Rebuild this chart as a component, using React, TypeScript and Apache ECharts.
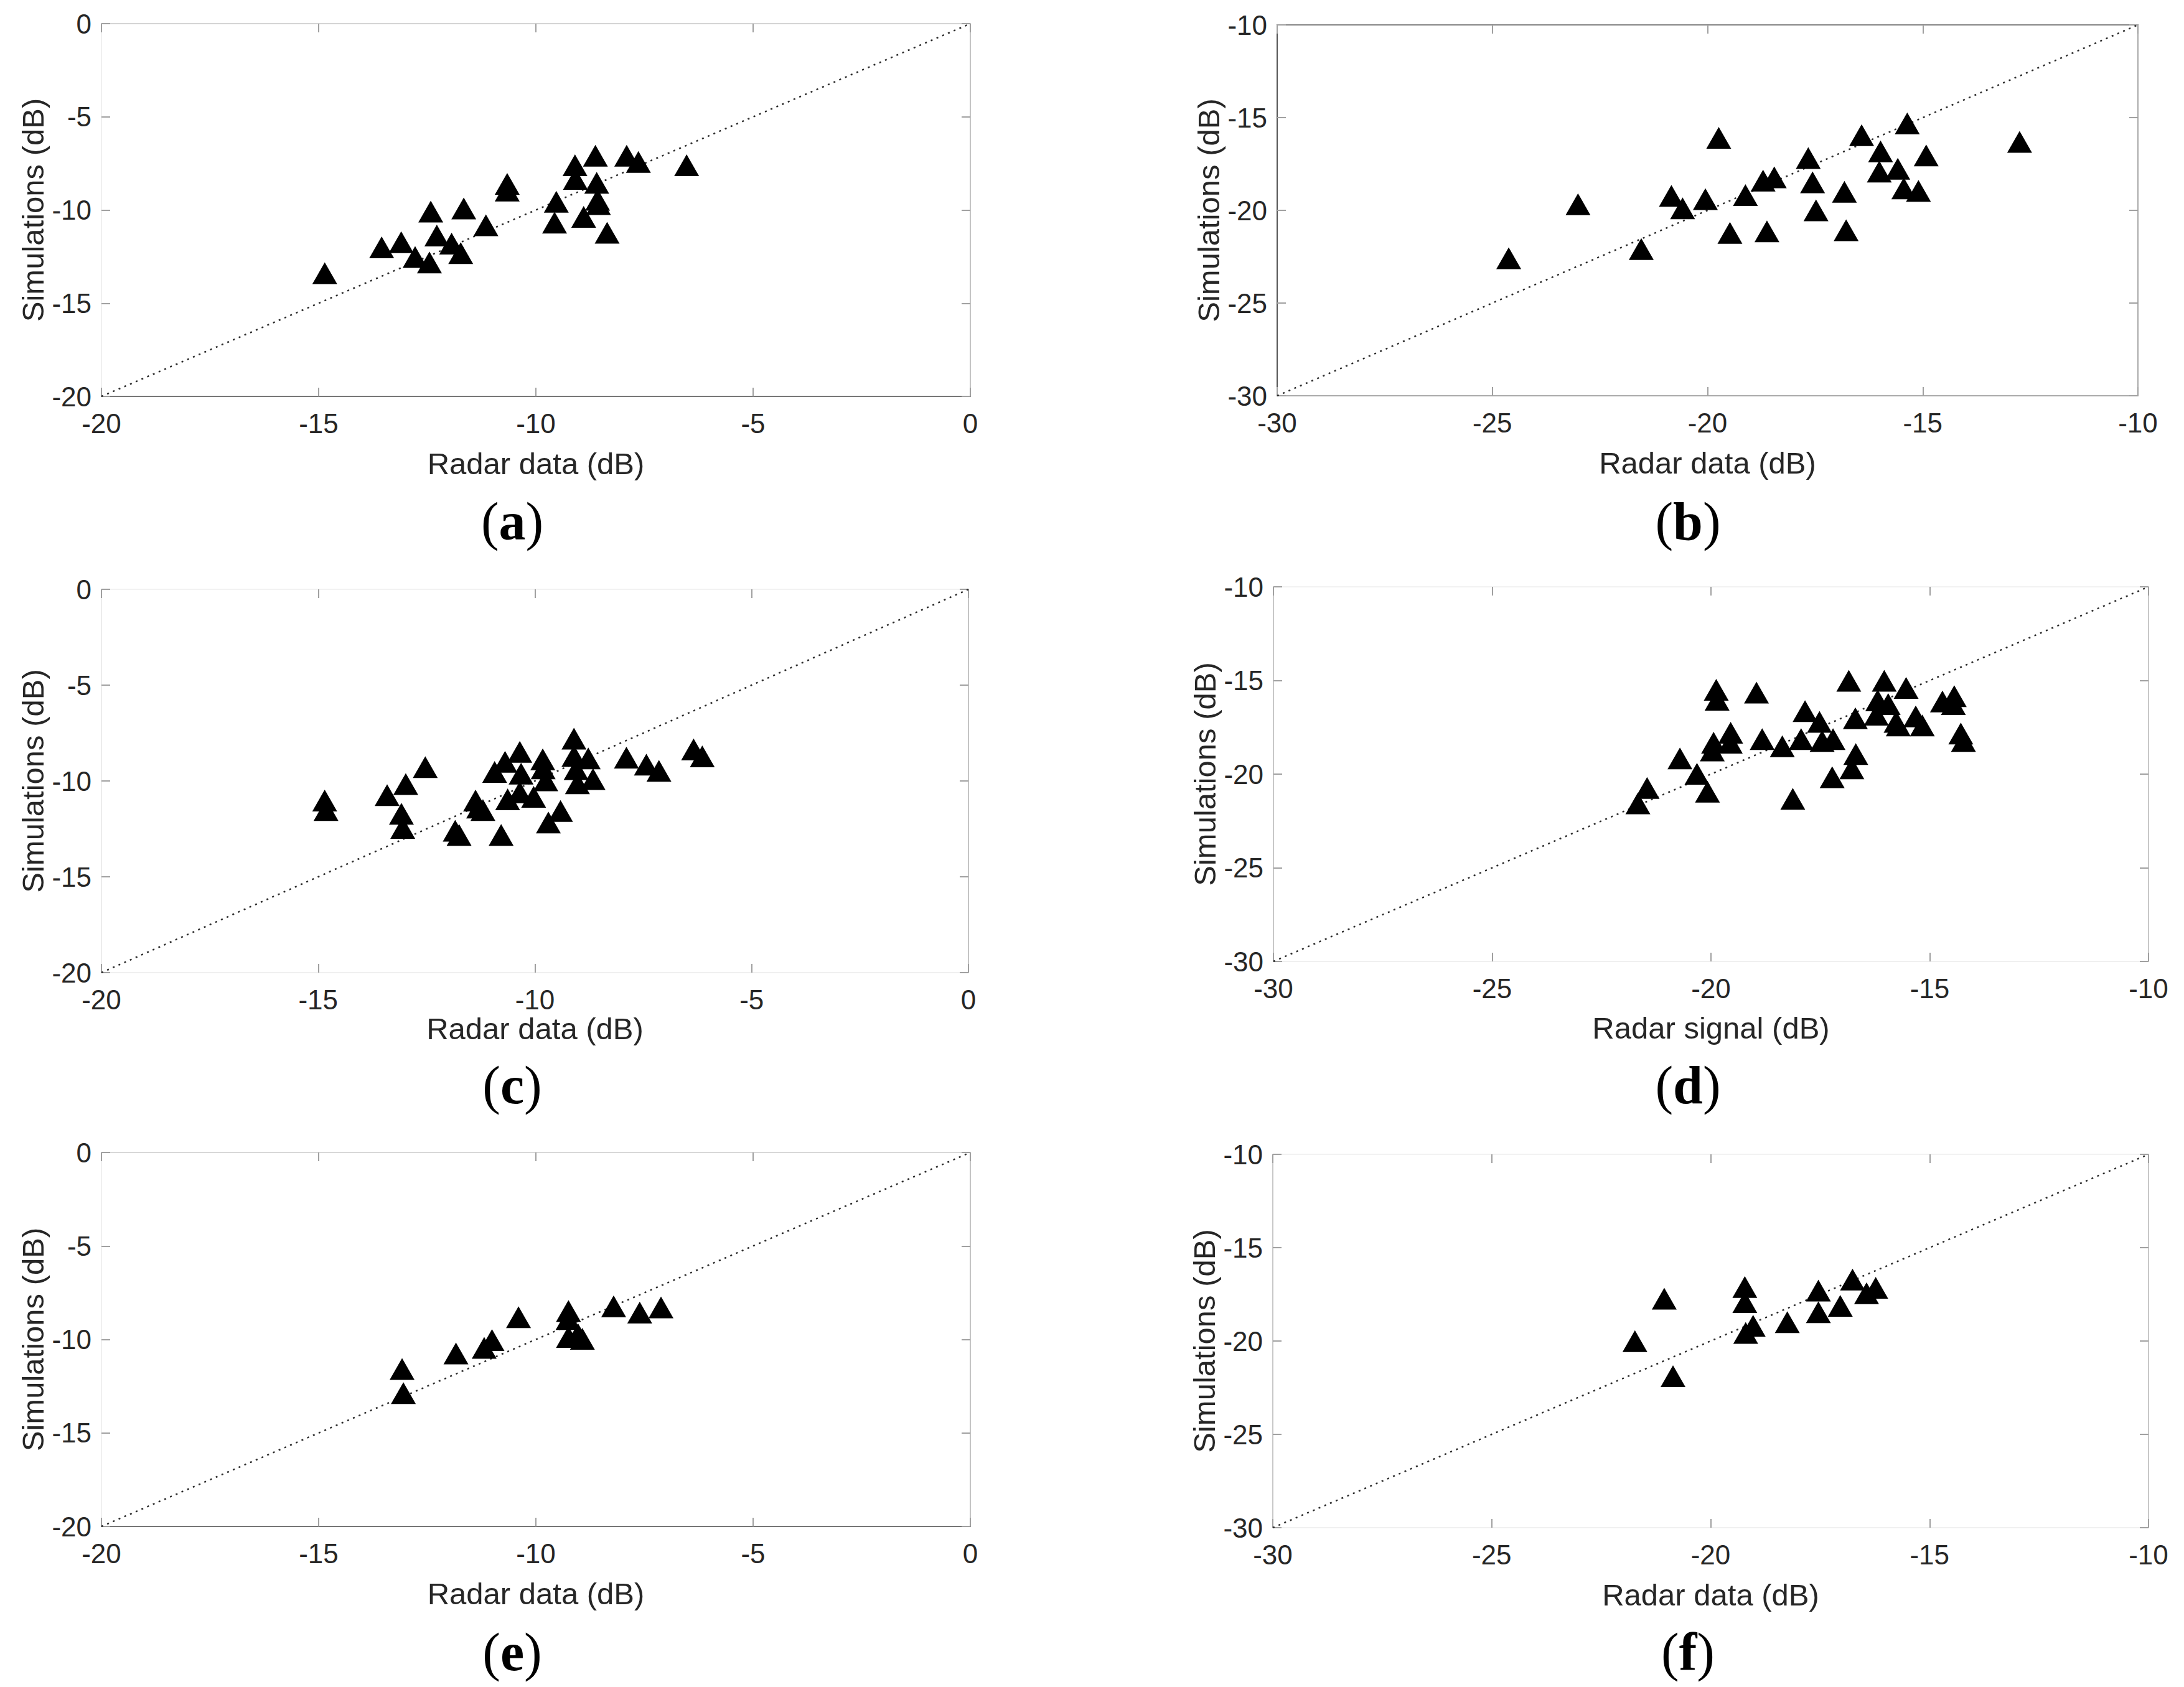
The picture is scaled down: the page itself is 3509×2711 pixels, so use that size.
import React, { useEffect, useRef } from "react";
import * as echarts from "echarts";

// ---------- data (radar dB on x, simulations dB on y) ----------
const radarA = [-14.86, -13.55, -13.1, -12.78, -12.45, -12.42, -12.28, -11.94, -11.73, -11.66, -11.15, -10.66, -10.66, -9.53, -9.57, -9.1, -9.09, -8.9, -8.63, -8.6, -8.58, -8.56, -8.36, -7.91, -7.64, -6.53];
const simA = [-13.39, -12.0, -11.73, -12.52, -12.81, -10.08, -11.37, -11.8, -12.31, -9.92, -10.82, -8.6, -8.96, -9.56, -10.68, -7.6, -8.33, -10.37, -7.09, -8.54, -9.45, -9.68, -11.22, -7.09, -7.42, -7.6];

const radarB = [-24.62, -23.01, -21.54, -20.84, -20.58, -20.05, -19.74, -19.48, -19.12, -18.71, -18.45, -18.62, -17.66, -17.56, -17.48, -16.82, -16.78, -16.42, -15.98, -16.01, -15.58, -15.44, -15.36, -15.1, -14.92, -12.75];
const simB = [-22.58, -19.67, -22.09, -19.22, -19.89, -19.4, -16.09, -21.22, -19.18, -18.4, -18.22, -21.13, -17.18, -18.49, -20.0, -19.0, -21.07, -15.95, -16.82, -17.91, -17.76, -18.82, -15.31, -18.95, -17.04, -16.31];

const radarC = [-14.85, -14.82, -13.41, -12.98, -13.08, -13.05, -12.53, -11.84, -11.75, -11.37, -11.3, -11.2, -10.93, -10.78, -10.69, -10.63, -10.35, -10.32, -10.35, -10.03, -9.82, -9.81, -9.75, -9.69, -9.41, -9.1, -9.1, -9.05, -9.02, -8.77, -8.66, -7.89, -7.43, -7.14, -6.34, -6.14];
const simC = [-11.02, -11.52, -10.74, -10.16, -11.71, -12.45, -9.28, -12.6, -12.82, -11.02, -11.39, -11.52, -9.53, -12.82, -9.0, -10.96, -8.48, -9.62, -10.59, -10.83, -8.87, -9.34, -9.97, -12.17, -11.57, -7.79, -8.69, -9.38, -10.12, -8.82, -9.9, -8.78, -9.15, -9.47, -8.35, -8.72];

const radarD = [-21.67, -21.46, -20.71, -20.32, -20.08, -19.97, -19.94, -19.88, -19.86, -19.56, -19.55, -18.96, -18.83, -18.37, -18.13, -17.94, -17.85, -17.52, -17.46, -17.21, -17.23, -16.85, -16.78, -16.7, -16.69, -16.22, -16.19, -16.04, -15.95, -15.77, -15.72, -15.54, -15.32, -15.17, -14.71, -14.46, -14.44, -14.29, -14.23];
const simD = [-21.56, -20.74, -19.16, -19.98, -20.94, -18.74, -18.32, -15.5, -16.03, -18.32, -17.79, -15.65, -18.13, -18.51, -21.32, -18.13, -16.64, -17.21, -18.23, -18.13, -20.17, -15.02, -19.69, -17.02, -18.93, -16.83, -16.06, -15.02, -16.26, -17.21, -17.4, -15.4, -16.92, -17.4, -16.12, -16.26, -15.84, -17.83, -18.23];

const radarE = [-13.08, -13.05, -11.84, -11.19, -11.01, -10.4, -9.25, -9.26, -9.25, -9.03, -8.93, -8.21, -7.61, -7.12];
const simE = [-11.58, -12.87, -10.75, -10.45, -10.03, -8.81, -8.48, -8.91, -9.87, -9.72, -9.97, -8.23, -8.56, -8.29];

const radarF = [-21.73, -21.06, -20.86, -19.22, -19.22, -19.2, -19.03, -18.25, -17.54, -17.54, -17.04, -16.76, -16.44, -16.23];
const simF = [-20.01, -17.73, -21.88, -17.11, -17.92, -19.57, -19.18, -18.99, -17.3, -18.46, -18.12, -16.71, -17.44, -17.15];

// axis ranges (also the 1:1 line ends)
const rangeNear = [-20, 0];
const rangeFar = [-30, -10];
const tickStep = 5;

const panelLetters = ["a", "b", "c", "d", "e", "f"];
const xTitles = ["Radar data (dB)", "Radar data (dB)", "Radar data (dB)", "Radar signal (dB)", "Radar data (dB)", "Radar data (dB)"];
const yTitle = "Simulations (dB)";

// ---------- layout / style ----------
const SANS = "'Liberation Sans', Arial, Helvetica, sans-serif";
const SERIF = "'Liberation Serif', 'Times New Roman', serif";
const TXT = "#262626";

type Panel = {
  xs: number[];
  ys: number[];
  range: number[];
  box: { l: number; t: number; r: number; b: number };
  xGap: number;
  edges: { top: string; right: string; bottom: string; left: string };
  label: { x: number; y: number };
};

const panels: Panel[] = [
  { xs: radarA, ys: simA, range: rangeNear, box: { l: 163, t: 38, r: 1559, b: 637 }, xGap: 83,
    edges: { top: "#d4d4d4", right: "#c4c4c4", bottom: "#777777", left: "#f0f0f0" }, label: { x: 823, y: 838 } },
  { xs: radarB, ys: simB, range: rangeFar, box: { l: 2052, t: 40, r: 3435, b: 636 }, xGap: 83,
    edges: { top: "#858585", right: "#aaaaaa", bottom: "#aaaaaa", left: "#555555" }, label: { x: 2712, y: 838 } },
  { xs: radarC, ys: simC, range: rangeNear, box: { l: 163, t: 947, r: 1556, b: 1563 }, xGap: 65,
    edges: { top: "#f2f2f2", right: "#c4c4c4", bottom: "#f0f0f0", left: "#ececec" }, label: { x: 823, y: 1744 } },
  { xs: radarD, ys: simD, range: rangeFar, box: { l: 2046, t: 943, r: 3452, b: 1545 }, xGap: 82,
    edges: { top: "#f2f2f2", right: "#c8c8c8", bottom: "#f0f0f0", left: "#c8c8c8" }, label: { x: 2712, y: 1744 } },
  { xs: radarE, ys: simE, range: rangeNear, box: { l: 163, t: 1852, r: 1559, b: 2453 }, xGap: 83,
    edges: { top: "#d8d8d8", right: "#c4c4c4", bottom: "#777777", left: "#f0f0f0" }, label: { x: 823, y: 2655 } },
  { xs: radarF, ys: simF, range: rangeFar, box: { l: 2045, t: 1855, r: 3452, b: 2455 }, xGap: 83,
    edges: { top: "#f2f2f2", right: "#c8c8c8", bottom: "#f0f0f0", left: "#c8c8c8" }, label: { x: 2712, y: 2655 } },
];

function axisBase(gridIndex: number, range: number[], color: string, showLabel: boolean) {
  return {
    type: "value",
    gridIndex,
    min: range[0],
    max: range[1],
    interval: tickStep,
    axisLine: { show: true, onZero: false, lineStyle: { color, width: 2 } },
    axisTick: { show: true, inside: true, length: 14, lineStyle: { color: "#a0a0a0", width: 2 } },
    splitLine: { show: false },
    axisLabel: { show: showLabel, fontSize: 44, fontFamily: SANS, color: TXT },
  };
}

function buildOption() {
  const grid: any[] = [];
  const xAxis: any[] = [];
  const yAxis: any[] = [];
  const series: any[] = [];
  const graphic: any[] = [];

  panels.forEach((p, i) => {
    grid.push({
      left: p.box.l,
      top: p.box.t,
      width: p.box.r - p.box.l,
      height: p.box.b - p.box.t,
      containLabel: false,
      outerBoundsMode: "none",
    });
    const bottomX = axisBase(i, p.range, p.edges.bottom, true) as any;
    bottomX.position = "bottom";
    bottomX.axisLabel.margin = 21;
    bottomX.name = xTitles[i];
    bottomX.nameLocation = "middle";
    bottomX.nameGap = p.xGap;
    bottomX.nameTextStyle = { fontSize: 49, fontFamily: SANS, color: TXT, lineHeight: 49 };
    const topX = axisBase(i, p.range, p.edges.top, false) as any;
    topX.position = "top";
    const leftY = axisBase(i, p.range, p.edges.left, true) as any;
    leftY.position = "left";
    leftY.axisLabel.margin = 16;
    leftY.name = yTitle;
    leftY.nameLocation = "middle";
    leftY.nameGap = 86;
    leftY.nameTextStyle = { fontSize: 49, fontFamily: SANS, color: TXT, lineHeight: 49 };
    const rightY = axisBase(i, p.range, p.edges.right, false) as any;
    rightY.position = "right";

    xAxis.push(bottomX, topX);
    yAxis.push(leftY, rightY);

    series.push({
      type: "line",
      xAxisIndex: 2 * i,
      yAxisIndex: 2 * i,
      data: [
        [p.range[0], p.range[0]],
        [p.range[1], p.range[1]],
      ],
      symbol: "none",
      silent: true,
      z: 1,
      lineStyle: { color: "#2a2a2a", width: 2.5, type: [3, 7] },
    });
    series.push({
      type: "scatter",
      xAxisIndex: 2 * i,
      yAxisIndex: 2 * i,
      data: p.xs.map((x, k) => [x, p.ys[k]]),
      symbol: "triangle",
      symbolSize: [40, 35],
      z: 3,
      itemStyle: { color: "#000000", opacity: 1 },
    });

    graphic.push({
      type: "text",
      x: p.label.x,
      y: p.label.y,
      style: {
        text: "{p|(}{b|" + panelLetters[i] + "}{p|)}",
        align: "center",
        verticalAlign: "middle",
        rich: {
          p: { fontFamily: SERIF, fontSize: 86, color: "#000", fontWeight: "normal" },
          b: { fontFamily: SERIF, fontSize: 86, color: "#000", fontWeight: "bold" },
        },
      },
    });
  });

  return {
    animation: false,
    backgroundColor: "#ffffff",
    grid,
    xAxis,
    yAxis,
    series,
    graphic,
  };
}

export default function App() {
  const ref = useRef<HTMLDivElement>(null);
  useEffect(() => {
    if (!ref.current) return;
    const chart = echarts.init(ref.current, null, { renderer: "svg" });
    chart.setOption(buildOption() as any);
    return () => chart.dispose();
  }, []);
  return (
    <div
      ref={ref}
      style={{ position: "absolute", left: 0, top: 0, width: 3509, height: 2711, background: "#fff" }}
    />
  );
}
